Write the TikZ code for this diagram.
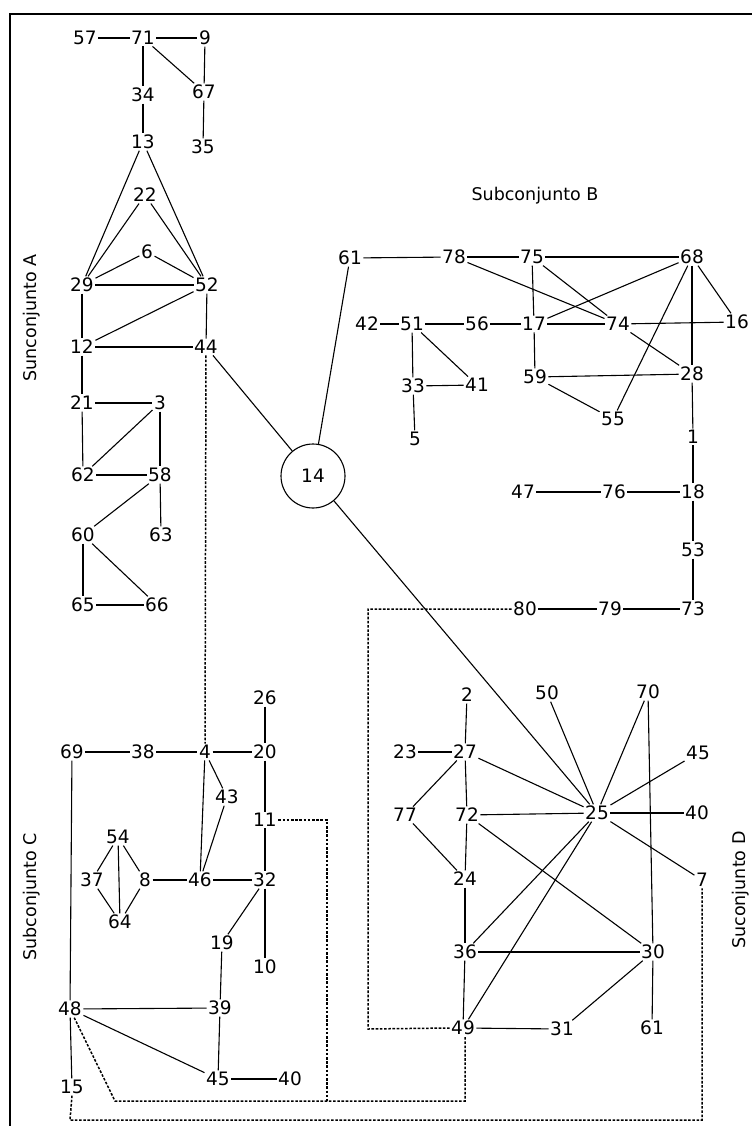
\documentclass[tikz,border=0pt]{standalone}
\usepackage{fontspec}
\setmainfont{DejaVu Sans}
\begin{document}
\begin{tikzpicture}[x=1pt,y=-1pt,
  v/.style={inner sep=1.5pt, font=\fontsize{18.5}{18.5}\selectfont},
  e/.style={line width=1.1pt},
  d/.style={line width=1.5pt, dash pattern=on 2.6pt off 1.6pt},
  lab/.style={font=\fontsize{17.5}{17.5}\selectfont}]
\useasboundingbox (0,0) rectangle (752,1126);
\fill[white] (0,0) rectangle (752,1126);
\draw[line width=1.8pt] (10,1126) -- (10,14) -- (752,14);
% labels
\node[lab, rotate=90] (labA) at (32,318) {Sunconjunto A};
\node[lab] (labB) at (535,196) {Subconjunto B};
\node[lab, rotate=90] (labC) at (32,897) {Subconjunto C};
\node[lab, rotate=90] (labD) at (741,890) {Suconjunto D};
% nodes
\foreach \n/\t/\x/\y in {57/57/85/38, 71/71/143/38, 9/9/205/38, 34/34/143/95, 67/67/204/92,
  13/13/143/142, 35/35/203/147, 22/22/145/195, 6/6/147/252, 29/29/82/285, 52/52/207/285,
  12/12/82/347, 44/44/206/347, 21/21/82/403, 3/3/160/403, 62/62/83/475, 58/58/160/475,
  60/60/83/535, 63/63/161/535, 65/65/83/605, 66/66/157/605,
  61/61/350/258, 78/78/454/257, 75/75/532/257, 68/68/692/257, 42/42/367/324,
  51/51/412/324, 56/56/477/324, 17/17/534/324, 74/74/618/324, 16/16/737/322, 33/33/413/386,
  41/41/477/385, 59/59/535/377, 28/28/692/374, 55/55/613/419, 5/5/415/439, 1/1/693/437,
  47/47/523/492, 76/76/614/492, 18/18/693/492, 53/53/693/550, 80/80/525/609, 79/79/610/609,
  73/73/693/609,
  26/26/265/698, 69/69/72/752, 38/38/143/752, 4/4/205/752, 20/20/265/752, 43/43/227/797,
  11/11/265/820, 54/54/118/837, 37/37/92/880, 8/8/145/880, 46/46/200/880, 32/32/265/880,
  64/64/120/922, 19/19/222/943, 10/10/265/967, 48/48/70/1009, 39/39/220/1008, 45c/45/218/1079,
  40c/40/290/1079, 15/15/72/1087,
  2/2/467/695, 50/50/547/693, 70/70/648/692, 23/23/405/752, 27/27/465/752, 45d/45/698/753,
  77/77/405/815, 72/72/467/815, 25/25/597/813, 40d/40/697/813, 24/24/465/879, 7/7/702/880,
  36/36/465/952, 30/30/653/952, 49/49/463/1028, 31/31/562/1029, 61d/61/652/1028}
  \node[v] (n\n) at (\x,\y) {\t};
\node[v, draw, circle, line width=1.1pt, minimum size=64pt, inner sep=0pt] (n14) at (313,476) {14};
% solid edges
\foreach \a/\b in {57/71, 71/9, 71/34, 71/67, 9/67, 67/35, 34/13,
  13/29, 13/52, 22/29, 22/52, 6/29, 6/52, 29/52, 29/12, 52/12, 52/44, 12/44,
  12/21, 21/3, 21/62, 3/62, 3/58, 62/58, 58/63, 58/60, 60/65, 60/66, 65/66,
  44/14, 61/14, 14/25,
  61/78, 78/75, 75/68, 78/74, 75/74, 74/28, 75/17, 17/68, 68/55, 68/28, 68/16, 74/16,
  42/51, 51/56, 56/17, 17/74, 17/59, 51/33, 51/41, 33/41, 33/5, 59/28, 59/55,
  28/1, 1/18, 18/76, 76/47, 18/53, 53/73, 73/79, 79/80,
  26/20, 69/38, 38/4, 4/20, 4/43, 4/46, 43/46, 20/11, 11/32,
  54/37, 54/8, 54/64, 37/64, 8/64, 8/46, 46/32, 32/19, 32/10, 19/39,
  69/48, 48/39, 48/45c, 39/45c, 45c/40c, 48/15,
  2/27, 23/27, 27/72, 27/77, 77/24, 72/24, 24/36, 36/49,
  27/25, 72/25, 50/25, 70/25, 45d/25, 40d/25, 25/7, 25/36, 25/49,
  72/30, 36/30, 70/30, 30/61d, 30/31, 49/31}
  \draw[e] (n\a) -- (n\b);
% dashed connectors
\coordinate (p1) at (368,609);
\coordinate (p2) at (368,1029);
\coordinate (p3) at (115,1101);
\coordinate (p4) at (465,1101);
\coordinate (p5) at (327,820);
\coordinate (p6) at (327,1101);
\coordinate (p7) at (70,1120);
\coordinate (p8) at (702,1120);
\draw[d] (n44) -- (n4);
\draw[d] (n80.west) -- (p1) -- (p2) -- (n49.west);
\draw[d] (n48) -- (p3) -- (p4) -- (n49.south -| p4);
\draw[d] (n11.east) -- (p5) -- (p6);
\draw[d] (n15.south) -- (p7) -- (p8) -- (n7.south);
\end{tikzpicture}
\end{document}
